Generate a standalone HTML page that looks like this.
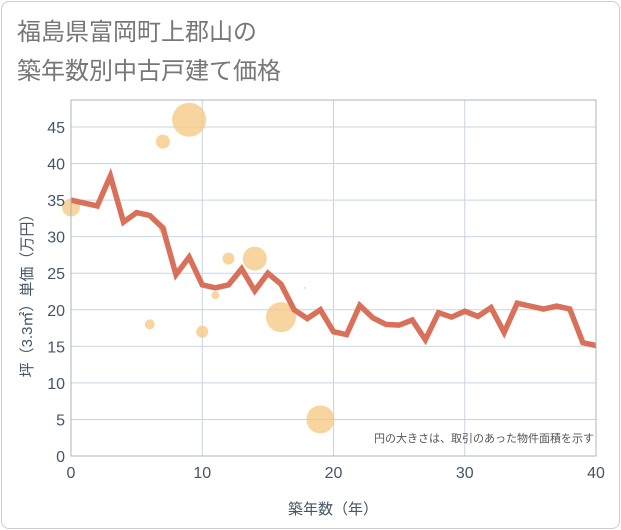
<!DOCTYPE html>
<html><head><meta charset="utf-8"><style>
body{margin:0;background:#fff;}
.card{position:absolute;left:1px;top:1px;width:617px;height:526px;border:1px solid #ccc;border-radius:8px;background:#fff;}
.t{font-family:"Liberation Sans","Noto Sans CJK JP",sans-serif;}
</style></head><body>
<div class="card"></div>
<svg width="621" height="530" style="position:absolute;left:0;top:0" id="chart">
<text x="17" y="40" font-size="24" fill="#777" class="t">福島県富岡町上郡山の</text>
<text x="17" y="79" font-size="24" fill="#777" class="t">築年数別中古戸建て価格</text>
<g id="grid"></g><g id="bubbles"></g><g id="line"></g><g id="axes"></g>
<text x="594" y="442" font-size="11" fill="#555" text-anchor="end" class="t">円の大きさは、取引のあった物件面積を示す</text>
<text x="333" y="514" font-size="15" fill="#445566" text-anchor="middle" class="t">築年数（年）</text>
<text transform="translate(32,292) rotate(-90)" font-size="15" fill="#445566" text-anchor="middle" class="t">坪（3.3㎡）単価（万円）</text>
</svg>
<script>
const xTicks=[0,10,20,30,40];
const yTicks=[0,5,10,15,20,25,30,35,40,45];
const lineX=[0,1,2,3,4,5,6,7,8,9,10,11,12,13,14,15,16,17,18,19,20,21,22,23,24,25,26,27,28,29,30,31,32,33,34,35,36,37,38,39,40];
const lineY=[35,34.6,34.2,38.3,32,33.3,32.9,31.2,24.8,27.2,23.4,23,23.4,25.6,22.6,25,23.5,20,18.8,20,17,16.6,20.6,18.9,18,17.9,18.6,15.9,19.6,19,19.8,19.1,20.3,16.9,20.9,20.5,20.1,20.5,20.1,15.5,15.1];
const bubX=[0,6,7,7,9,10,11,12,14,16,17.8,19];
const bubY=[34,18,31,43,46,17,22,27,27,19,23,5];
const bubR=[9,5,4,7,17,6,4,6,12,15,1,14];
const L=71,R=596,T=100,B=456;
const sx=v=>L+(v-0)/40*(R-L);
const sy=v=>B-v/45*(B-127);
const NS="http://www.w3.org/2000/svg";
function mk(tag,attrs,parent){const e=document.createElementNS(NS,tag);for(const k in attrs)e.setAttribute(k,attrs[k]);document.getElementById(parent).appendChild(e);return e;}
yTicks.forEach(v=>{
 const l=mk('line',{x1:L,x2:R,y1:sy(v),y2:sy(v),stroke:'#c8d4e3','stroke-width':1},'grid');
 
 
 const t=mk('text',{x:L-6,y:sy(v)+6,'font-size':16,fill:'#445566','text-anchor':'end',class:'t'},'axes');
 t.textContent=v;
 
 
});
xTicks.forEach(v=>{
 const l=mk('line',{x1:sx(v),x2:sx(v),y1:T,y2:B,stroke:'#c8d4e3','stroke-width':1},'grid');
 
 
 const t=mk('text',{x:sx(v),y:B+22,'font-size':16,fill:'#445566','text-anchor':'middle',class:'t'},'axes');
 t.textContent=v;
 
 
});
const fr=mk('rect',{x:L,y:T,width:R-L,height:B-T,fill:'none',stroke:'#aab4c0','stroke-width':1},'axes');


bubX.forEach((x,i)=>{
 const c=mk('circle',{cx:sx(x),cy:sy(bubY[i]),r:bubR[i],fill:'#f5c77e','fill-opacity':0.75},'bubbles');
 
 
});
const p=mk('polyline',{points:lineX.map((x,i)=>sx(x)+','+sy(lineY[i])).join(' '),fill:'none',stroke:'#d9705a','stroke-width':5.5,'stroke-linejoin':'miter'},'line');


</script>
</body></html>
